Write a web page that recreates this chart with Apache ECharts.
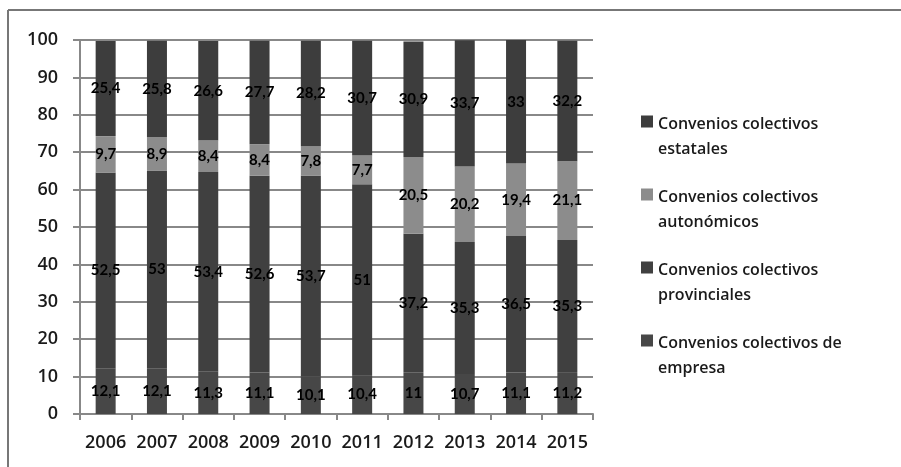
<!DOCTYPE html>
<html>
<head>
<meta charset="utf-8">
<script src="https://cdn.jsdelivr.net/npm/echarts@6/dist/echarts.min.js"></script>
<style>
html, body { margin: 0; padding: 0; background: #fff; }
#chart { width: 901px; height: 467px; }
</style>
</head>
<body>
<div id="chart"></div>
<script>
// años
var years = ['2006', '2007', '2008', '2009', '2010', '2011', '2012', '2013', '2014', '2015'];
// de abajo hacia arriba
var empresa = [12.1, 12.1, 11.3, 11.1, 10.1, 10.4, 11, 10.7, 11.1, 11.2];
var provinciales = [52.5, 53, 53.4, 52.6, 53.7, 51, 37.2, 35.3, 36.5, 35.3];
var autonomicos = [9.7, 8.9, 8.4, 8.4, 7.8, 7.7, 20.5, 20.2, 19.4, 21.1];
var estatales = [25.4, 25.8, 26.6, 27.7, 28.2, 30.7, 30.9, 33.7, 33, 32.2];
var yTicks = [0, 10, 20, 30, 40, 50, 60, 70, 80, 90, 100];

var names = [
	'Convenios colectivos de\nempresa',
	'Convenios colectivos\nprovinciales',
	'Convenios colectivos\nautonómicos',
	'Convenios colectivos\nestatales'
];
var colors = ['#474747', '#404040', '#8c8c8c', '#3d3d3d'];
var values = [empresa, provinciales, autonomicos, estatales];

var font = '"Open Sans", Lato, sans-serif';

function mkSerie(i) {
	return {
		name: names[i],
		type: 'bar',
		stack: 'total',
		barWidth: 20,
		data: values[i],
		itemStyle: { color: colors[i] },
		label: {
			show: true,
			position: 'inside',
			color: '#000',
			fontFamily: 'Lato, sans-serif',
			fontWeight: 'bold',
			fontSize: 15,
			formatter: function(p) { return String(p.value).replace('.', ','); }
		}
	};
}

var chart = echarts.init(document.getElementById('chart'));
chart.setOption({
	animation: false,
	backgroundColor: '#fff',
	grid: { left: 80, right: 308, top: 40, bottom: 53 },
	legend: {
		orient: 'vertical',
		left: 636,
		top: 107,
		itemGap: 23,
		itemWidth: 12,
		itemHeight: 43,
		icon: 'path://M0,0L12,0L12,12L0,12Z M0,43L12,43',
		data: names.slice().reverse(),
		textStyle: { fontFamily: font, fontWeight: 600, fontSize: 16, color: '#1a1a1a', lineHeight: 25 }
	},
	xAxis: {
		type: 'category',
		data: years,
		axisLine: { lineStyle: { color: '#888', width: 2 } },
		axisTick: { show: true, length: 6, lineStyle: { color: '#888', width: 2 } },
		axisLabel: { interval: 0, margin: 20, fontFamily: font, fontWeight: 600, fontSize: 18, color: '#1a1a1a' }
	},
	yAxis: {
		type: 'value',
		min: yTicks[0],
		max: yTicks[yTicks.length - 1],
		interval: 10,
		axisLine: { show: true, lineStyle: { color: '#888', width: 2 } },
		axisTick: { show: true, length: 7, lineStyle: { color: '#888', width: 2 } },
		splitLine: { lineStyle: { color: '#888', width: 2 } },
		axisLabel: { margin: 22, fontFamily: font, fontWeight: 600, fontSize: 18, color: '#1a1a1a' }
	},
	graphic: [
		{ type: 'line', shape: { x1: 8, y1: 10, x2: 901, y2: 10 }, style: { stroke: '#777', lineWidth: 2 } },
		{ type: 'line', shape: { x1: 8, y1: 10, x2: 8, y2: 467 }, style: { stroke: '#777', lineWidth: 2 } }
	],
	series: [mkSerie(0), mkSerie(1), mkSerie(2), mkSerie(3)]
});
</script>
</body>
</html>
